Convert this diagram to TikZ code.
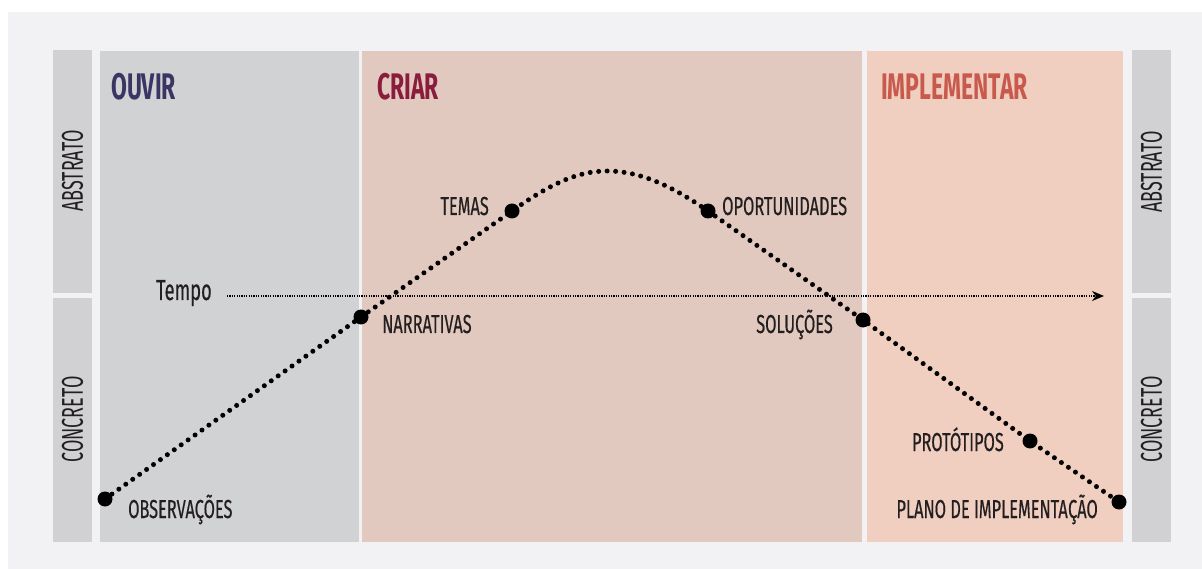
\documentclass[tikz,border=0pt]{standalone}
\usepackage{fontspec}
\setmainfont{Fira Sans}[FakeStretch=0.63,FakeBold=0.4]
\newfontfamily\titlefont{Fira Sans}[FakeStretch=0.62]
\newfontfamily\sidefont{Fira Sans}[FakeStretch=0.6]
\usetikzlibrary{arrows.meta}
\definecolor{bgc}{HTML}{F2F2F4}
\definecolor{barc}{HTML}{D1D1D3}
\definecolor{ouvirc}{HTML}{D1D2D4}
\definecolor{criarc}{HTML}{E2C9BF}
\definecolor{implc}{HTML}{F0CFC0}
\definecolor{txt}{HTML}{231F20}
\definecolor{ouvirt}{HTML}{3B3564}
\definecolor{criart}{HTML}{8A1C3D}
\definecolor{implt}{HTML}{C85A4D}
\begin{document}
\begin{tikzpicture}[x=1pt,y=-1pt,
  lbl/.style={inner sep=0, font=\fontsize{26}{26}\selectfont, text=txt},
  ttl/.style={inner sep=0, font=\titlefont\bfseries\fontsize{37}{37}\selectfont},
  side/.style={inner sep=0, rotate=90, font=\sidefont\fontsize{30}{30}\selectfont, text=txt},
  bigdot/.style={circle, fill=black, minimum size=15pt, inner sep=0},
  curvepath/.style={line width=5pt, dash pattern=on 0pt off 8.5pt, line cap=round},
  timeline/.style={line width=1.2pt, dash pattern=on 1.2pt off 1.2pt, -{Stealth[length=12pt,width=10pt]}}]
\useasboundingbox (0,0) rectangle (1202,569);
\fill[white] (0,0) rectangle (1202,569);
\fill[bgc] (8,12) rectangle (1202,569);
% side bars
\fill[barc] (53,50) rectangle (92,293);
\fill[barc] (53,298) rectangle (92,542);
\fill[barc] (1132,50) rectangle (1171,293);
\fill[barc] (1132,298) rectangle (1171,542);
% panels
\fill[ouvirc] (100,51) rectangle (359,542);
\fill[criarc] (362,51) rectangle (862,542);
\fill[implc] (867,51) rectangle (1123,542);
% titles
\node[ttl, text=ouvirt, anchor=base west] (tOuvir) at (111,100) {OUVIR};
\node[ttl, text=criart, anchor=base west] (tCriar) at (377,100) {CRIAR};
\node[ttl, text=implt, anchor=base west] (tImpl) at (881,100) {IMPLEMENTAR};
% side labels
\node[side] (sAL) at (72.5,171) {ABSTRATO};
\node[side] (sCL) at (72.5,419.5) {CONCRETO};
\node[side] (sAR) at (1151.5,172) {ABSTRATO};
\node[side] (sCR) at (1151.5,419.5) {CONCRETO};
% time axis
\node[lbl, anchor=base west, font=\fontsize{29}{29}\selectfont] (tempo) at (156,300) {Tempo};
\coordinate (tStart) at (227,296);
\coordinate (tEnd) at (1104,296);
\draw[timeline] (tStart) -- (tEnd);
% curve points
\coordinate (pObs) at (105,499);
\coordinate (pNar) at (361,317);
\coordinate (pTem) at (512,211);
\coordinate (pTop) at (607,171);
\coordinate (pOpo) at (708,211);
\coordinate (pSol) at (863,320);
\coordinate (pPro) at (1030,441);
\coordinate (pPla) at (1119,502);
\draw[curvepath] (pObs) -- (pNar) -- (pTem)
  .. controls (547,186.5) and (575,171) .. (pTop)
  .. controls (640,171) and (672,186) .. (pOpo)
  -- (pSol) -- (pPro) -- (pPla);
\node[bigdot] (dObs) at (pObs) {};
\node[bigdot] (dNar) at (pNar) {};
\node[bigdot] (dTem) at (pTem) {};
\node[bigdot] (dOpo) at (pOpo) {};
\node[bigdot] (dSol) at (pSol) {};
\node[bigdot] (dPro) at (pPro) {};
\node[bigdot] (dPla) at (pPla) {};
% labels
\node[lbl, anchor=base west] (lObs) at (128,518) {OBSERVAÇÕES};
\node[lbl, anchor=base west] (lNar) at (382,333) {NARRATIVAS};
\node[lbl, anchor=base east] (lTem) at (489,215) {TEMAS};
\node[lbl, anchor=base west] (lOpo) at (722,215) {OPORTUNIDADES};
\node[lbl, anchor=base east] (lSol) at (833,333) {SOLUÇÕES};
\node[lbl, anchor=base east] (lPro) at (1004,451) {PROTÓTIPOS};
\node[lbl, anchor=base east] (lPla) at (1098,518) {PLANO DE IMPLEMENTA\kern0.3ptÇÃO};
\end{tikzpicture}
\end{document}
